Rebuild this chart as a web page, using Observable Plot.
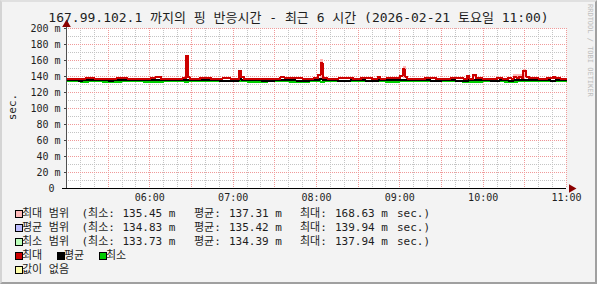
<!DOCTYPE html>
<html><head><meta charset="utf-8">
<script src="https://cdn.jsdelivr.net/npm/d3@7"></script>
<script src="https://cdn.jsdelivr.net/npm/@observablehq/plot@0.6"></script>
<style>
html,body{margin:0;padding:0;background:#fff;}
#wrap{position:relative;width:597px;height:284px;background:#f3f3f3;overflow:hidden;
  font-family:"DejaVu Sans Mono","Noto Sans CJK KR",monospace;color:#1e1e1e;}
#wrap svg{position:absolute;left:0;top:0;}
.t{position:absolute;white-space:pre;font-size:11px;line-height:14px;}
.box{position:absolute;width:6px;height:6px;border:1px solid #000;}
#frameL{position:absolute;left:0;top:0;width:597px;height:284px;box-sizing:border-box;
  border-left:2px solid #d4d4d4;border-top:2px solid #e0e0e0;border-right:2px solid #a0a0a0;border-bottom:2px solid #a0a0a0;pointer-events:none;}
</style>
</head><body>
<div id="wrap"><div id="frameL"></div></div>
<script>
// ---- data ----
const titleText = "167.99.102.1 까지의 핑 반응시간 - 최근 6 시간 (2026-02-21 토요일 11:00)";
const xDomain = [0, 360];            // minutes after 05:00
const xTicks = [60, 120, 180, 240, 300, 360];
const xLabels = ["06:00", "07:00", "08:00", "09:00", "10:00", "11:00"];
const yDomain = [0, 200];
const yTicks = [0, 20, 40, 60, 80, 100, 120, 140, 160, 180, 200];
const yLabels = ["0\u00a0", "20 m", "40 m", "60 m", "80 m", "100 m", "120 m", "140 m", "160 m", "180 m", "200 m"];

// step series: [minute, ms]
const maxLine = [[0,137.4],[14,137.8],[20,137.2],[36,138.0],[44,137.4],[52,137.0],[60,137.6],[64,139.2],[68,137.1],[76,137.4],[84,138.4],[86,165.5],[87.5,138.8],[89,137.2],[96,137.8],[104,137.2],[112,137.6],[118,137.0],[124,147.5],[125.5,139.2],[128,136.8],[136,137.0],[146,137.4],[154,138.8],[157,137.6],[162,137.6],[170,137.2],[178,137.6],[181,142.0],[183,156.5],[184.5,138.0],[188,137.2],[196,137.6],[204,138.4],[206,137.2],[212,137.8],[220,137.0],[224,139.2],[226,137.4],[230,137.6],[240,141.0],[242,149.0],[243.5,140.0],[245,137.4],[252,137.0],[258,137.8],[266,137.2],[276,137.6],[286,137.2],[288.5,141.2],[290,137.4],[293,142.5],[295,137.6],[300,137.2],[310,137.8],[314,137.2],[318,138.6],[320,137.4],[322,140.0],[324,137.6],[325.5,140.0],[328,137.8],[329,147.5],[331,140.0],[333,137.6],[340,137.2],[346,137.8],[350,140.0],[352,137.6],[356,137.2]];
const avgLine = [[0,135.4],[8,135.0],[12,135.4],[30,135.0],[34,135.6],[50,135.2],[60,135.6],[72,135.2],[84,136.2],[88,135.2],[100,135.5],[110,135.0],[124,136.5],[126,135.4],[140,134.9],[150,135.4],[165,135.0],[175,135.5],[182,136.8],[185,135.2],[195,135.0],[205,135.6],[215,135.0],[225,135.5],[240,136.2],[244,135.3],[255,135.6],[262,134.8],[270,135.4],[280,135.0],[290,135.8],[296,135.3],[305,134.8],[312,135.4],[318,134.8],[322,136.0],[332,135.2],[340,135.6],[348,134.9],[352,135.5]];
const minLine = [[0,133.8],[10,133.5],[16,134.0],[26,133.6],[40,134.1],[55,133.7],[70,134.0],[85,133.6],[88,134.2],[100,133.8],[115,134.1],[130,133.6],[145,134.0],[160,133.7],[175,134.1],[183,133.6],[186,134.2],[200,133.8],[215,134.0],[230,133.5],[240,134.2],[255,133.8],[270,134.1],[285,133.7],[300,134.0],[315,133.6],[325,134.4],[332,133.9],[345,134.2],[355,133.8]];
// max-range (pink) spikes: [from minute, to minute, top ms]
const maxRangeSpikes = [[86.5,88.5,157.5],[183,185,160.8],[242.5,245,152.5],[322,328,142.5],[329,331.5,149.0]];
const maxRangeBase = 137;

// legend
const rangeLabels = ["최대 범위", "평균 범위", "최소 범위"];
const rangeColors = ["#ffbbbb", "#bbbbff", "#bbffbb"];
const rangeMin = ["135.45", "134.83", "133.73"];
const rangeAvg = ["137.31", "135.42", "134.39"];
const rangeMax = ["168.63", "139.94", "137.94"];
const lineLabels = ["최대", "평균", "최소"];
const lineColors = ["#cc0000", "#000000", "#00cc00"];
const noDataLabel = "값이 없음";
const noDataColor = "#ffffaa";
const yTitle = "sec.";
const credit = "RRDTOOL / TOBI OETIKER";

// ---- build ----
const toPts = arr => arr.map(([t, v]) => ({t, v})).concat([{t: xDomain[1], v: arr[arr.length - 1][1]}]);
const font = "DejaVu Sans Mono";
const minorX = d3.range(10, 361, 10).filter(d => d % 30 !== 0);
const majorX = d3.range(30, 361, 30);
const minorY = d3.range(10, 201, 20);
const majorY = d3.range(20, 201, 20);

const chart = Plot.plot({
  width: 597, height: 284,
  marginLeft: 66, marginRight: 31, marginTop: 28, marginBottom: 96,
  x: {domain: xDomain},
  y: {domain: yDomain},
  style: {background: "transparent", fontFamily: font, fontSize: "10px", color: "#1e1e1e", overflow: "visible"},
  marks: [
    Plot.frame({fill: "white", stroke: null}),
    Plot.ruleY(minorY, {stroke: "#c4c4c4", strokeDasharray: "1,1", shapeRendering: "crispEdges"}),
    Plot.ruleX(minorX, {stroke: "#c4c4c4", strokeDasharray: "1,1", shapeRendering: "crispEdges"}),
    Plot.ruleY(majorY, {stroke: "#f09a9a", strokeDasharray: "1,1", shapeRendering: "crispEdges"}),
    Plot.ruleX(majorX, {stroke: "#f09a9a", strokeDasharray: "1,1", shapeRendering: "crispEdges"}),
    Plot.rectY(maxRangeSpikes, {x1: d => d[0], x2: d => d[1], y1: maxRangeBase, y2: d => d[2], fill: "#ffb4b4", shapeRendering: "crispEdges"}),
    Plot.line(toPts(minLine), {x: "t", y: "v", curve: "step-after", stroke: lineColors[2], strokeWidth: 2, shapeRendering: "crispEdges"}),
    Plot.line(toPts(avgLine), {x: "t", y: "v", curve: "step-after", stroke: lineColors[1], strokeWidth: 2, shapeRendering: "crispEdges"}),
    Plot.line(toPts(maxLine), {x: "t", y: "v", curve: "step-after", stroke: lineColors[0], strokeWidth: 2, shapeRendering: "crispEdges"}),
    Plot.axisY({ticks: yTicks, tickFormat: d => yLabels[yTicks.indexOf(d)], tickSize: 2, tickPadding: 4, fontFamily: font, fontSize: 10, stroke: "#444"}),
    Plot.axisX({ticks: xTicks, tickFormat: d => xLabels[xTicks.indexOf(d)], tickSize: 0, tickPadding: 5, fontFamily: font, fontSize: 10}),
    Plot.ruleX([xDomain[0]], {stroke: "#505050", insetTop: -4, shapeRendering: "crispEdges"}),
    Plot.ruleY([yDomain[0]], {stroke: "#000", insetLeft: -4, shapeRendering: "crispEdges"}),
    Plot.dot([{x: xDomain[1], y: yDomain[0]}], {x: "x", y: "y", symbol: "triangle", rotate: 90, r: 3.2, fill: "#8b0000", stroke: null, dx: 5}),
    Plot.dot([{x: xDomain[0], y: yDomain[1]}], {x: "x", y: "y", symbol: "triangle", r: 3.2, fill: "#8b0000", stroke: null, dy: -4})
  ]
});
const wrap = document.getElementById("wrap");
wrap.insertBefore(chart, wrap.firstChild);

function txt(s, left, top, extra) {
  const d = document.createElement("div");
  d.className = "t"; d.textContent = s;
  d.style.left = left + "px"; d.style.top = top + "px";
  if (extra) Object.assign(d.style, extra);
  wrap.appendChild(d); return d;
}
function box(color, left, top) {
  const b = document.createElement("div");
  b.className = "box"; b.style.background = color;
  b.style.left = left + "px"; b.style.top = top + "px";
  wrap.appendChild(b);
}
// title (line box kept small; glyphs centred at y≈18)
txt(titleText, 0, 14.5, {width: "597px", textAlign: "center", fontSize: "13px", lineHeight: "6px"});
// y title
txt(yTitle, -2, 100, {fontSize: "11px", transform: "rotate(-90deg)", transformOrigin: "center", width: "30px", textAlign: "center"});
// credit
txt(credit, 540, 50, {fontSize: "7px", lineHeight: "8px", color: "#bdbdbd", transform: "rotate(90deg)", width: "100px", textAlign: "left"});

const rowCenters = [213.5, 227.5, 241.5, 255.5, 270];
rangeLabels.forEach((lab, i) => {
  const c = rowCenters[i];
  box(rangeColors[i], 15, c - 4);
  txt(lab, 22, c - 7);
  txt("(최소:", 81.5, c - 7);
  txt(rangeMin[i] + " m", 122.5, c - 7);
  txt("평균:", 194, c - 7);
  txt(rangeAvg[i] + " m", 229, c - 7);
  txt("최대:", 300, c - 7);
  txt(rangeMax[i] + " m", 335, c - 7);
  txt("sec.)", 397, c - 7);
});
const lineBoxX = [15, 57, 99];
lineLabels.forEach((lab, i) => {
  const c = rowCenters[3];
  box(lineColors[i], lineBoxX[i], c - 4);
  txt(lab, lineBoxX[i] + 7, c - 7);
});
box(noDataColor, 15, rowCenters[4] - 4);
txt(noDataLabel, 22, rowCenters[4] - 7);
</script>
</body></html>
